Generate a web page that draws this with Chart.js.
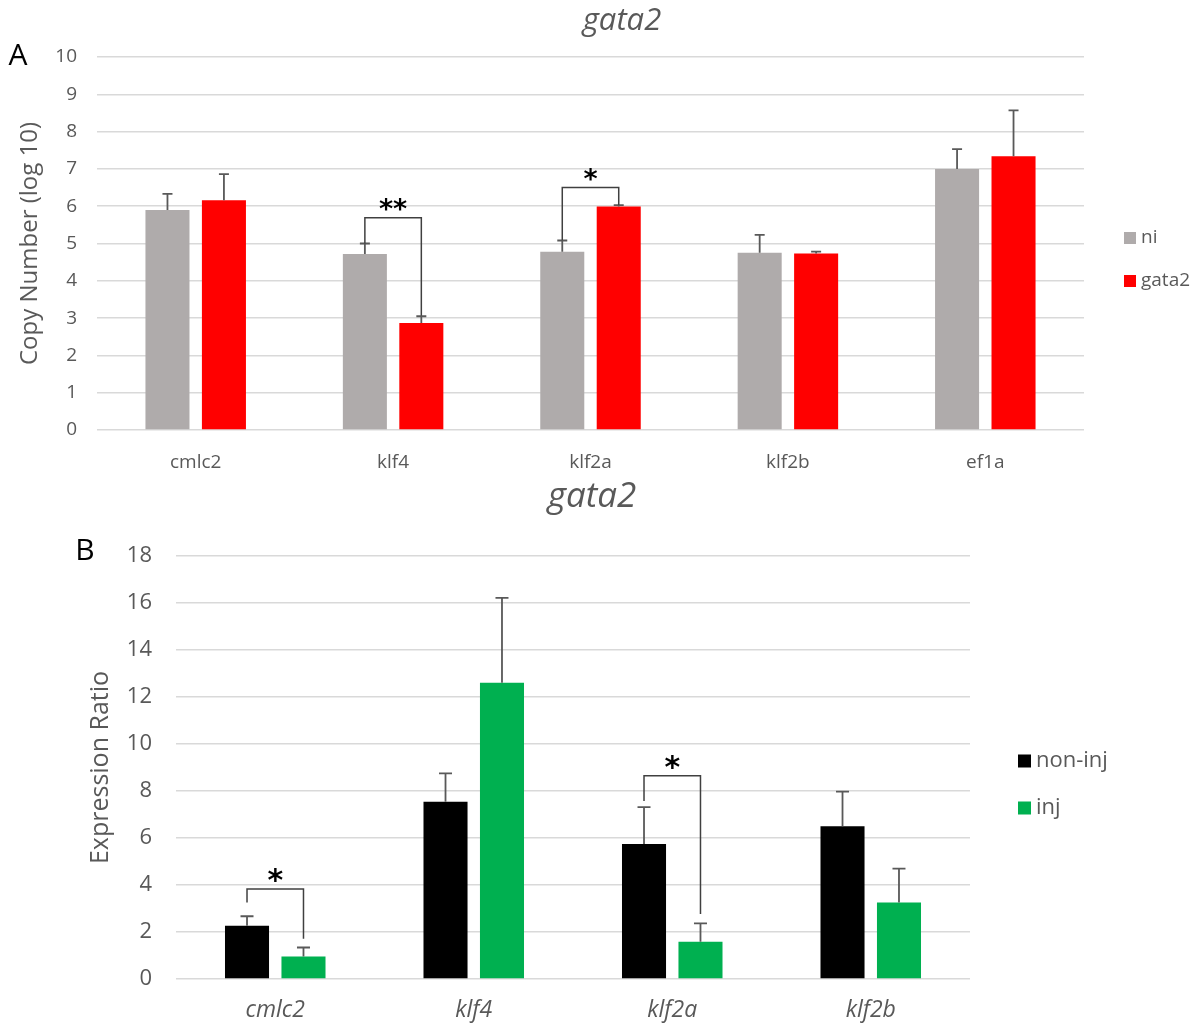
<!DOCTYPE html>
<html>
<head>
<meta charset="utf-8">
<script src="https://cdn.jsdelivr.net/npm/chart.js@4.4.0/dist/chart.umd.min.js"></script>
<style>
  body { margin: 0; background: #fff; }
  #chartA { position: absolute; left: 0; top: 0; }
  #chartB { position: absolute; left: 0; top: 480px; }
</style>
</head>
<body>
<canvas id="chartA" width="1198" height="480"></canvas>
<canvas id="chartB" width="1198" height="545"></canvas>
<script>
// panel A data (copy number, log10)
const catsA = ["cmlc2", "klf4", "klf2a", "klf2b", "ef1a"];
const niVals = [5.9, 4.72, 4.78, 4.75, 7.0];
const gataVals = [6.16, 2.87, 5.99, 4.73, 7.34];
const niErr = [0.43, 0.28, 0.3, 0.48, 0.53];
const gataErr = [0.7, 0.18, 0.04, 0.05, 1.23];
// significance brackets: category, left end, top, right end, label
const bracketsA = [
  [1, 5.0, 5.69, 3.06, "**"],
  [2, 5.09, 6.5, 6.03, "*"],
];

// panel B data (expression ratio)
const catsB = ["cmlc2", "klf4", "klf2a", "klf2b"];
const nonInjVals = [2.27, 7.54, 5.74, 6.5];
const injVals = [0.96, 12.61, 1.59, 3.26];
const nonInjErr = [0.4, 1.21, 1.57, 1.47];
const injErr = [0.38, 3.61, 0.78, 1.44];
const bracketsB = [
  [0, 3.26, 3.83, 1.71, "*"],
  [2, 7.57, 8.65, 2.77, "*"],
];

const FONT = "'Open Sans', sans-serif";
const TEXT = "#595959";
Chart.defaults.font.family = FONT;

// upper error bars drawn from the y scale
const errorBars = {
  id: "errorBars",
  afterDatasetsDraw(chart, args, opts) {
    const ctx = chart.ctx;
    const y = chart.scales.y;
    ctx.save();
    ctx.strokeStyle = opts.color;
    ctx.lineWidth = opts.width;
    opts.errors.forEach((errs, di) => {
      const meta = chart.getDatasetMeta(di);
      meta.data.forEach((bar, i) => {
        const v = chart.data.datasets[di].data[i];
        const y0 = y.getPixelForValue(v);
        const y1 = y.getPixelForValue(v + errs[i]);
        ctx.beginPath();
        ctx.moveTo(bar.x, y0);
        ctx.lineTo(bar.x, y1);
        ctx.moveTo(bar.x - opts.cap, y1);
        ctx.lineTo(bar.x + opts.cap, y1);
        ctx.stroke();
      });
    });
    ctx.restore();
  },
};

// brackets with stars between the two bars of a group
const sigBrackets = {
  id: "sigBrackets",
  afterDatasetsDraw(chart, args, opts) {
    const ctx = chart.ctx;
    const y = chart.scales.y;
    ctx.save();
    opts.items.forEach(([idx, left, top, right, label]) => {
      const xl = chart.getDatasetMeta(0).data[idx].x;
      const xr = chart.getDatasetMeta(1).data[idx].x;
      const yt = y.getPixelForValue(top);
      ctx.strokeStyle = "#404040";
      ctx.lineWidth = 1.5;
      ctx.beginPath();
      ctx.moveTo(xl, y.getPixelForValue(left));
      ctx.lineTo(xl, yt);
      ctx.lineTo(xr, yt);
      ctx.lineTo(xr, y.getPixelForValue(right));
      ctx.stroke();
      ctx.fillStyle = "#000";
      ctx.font = "bold " + opts.starSize + "px 'DejaVu Sans'";
      ctx.textAlign = "center";
      ctx.textBaseline = "alphabetic";
      const m = ctx.measureText(label);
      const cy = yt - opts.gap;
      const base = cy + (m.actualBoundingBoxAscent - m.actualBoundingBoxDescent) / 2;
      ctx.fillText(label, (xl + xr) / 2, base);
    });
    ctx.restore();
  },
};

// side legend, panel title and panel letter
const decor = {
  id: "decor",
  afterDraw(chart, args, opts) {
    const ctx = chart.ctx;
    ctx.save();
    ctx.textBaseline = "middle";
    chart.data.datasets.forEach((ds, i) => {
      const cy = opts.legendY[i];
      ctx.fillStyle = ds.backgroundColor;
      ctx.fillRect(opts.legendX, cy - opts.box / 2, opts.box, opts.box);
      ctx.fillStyle = TEXT;
      ctx.font = opts.legendFont + "px " + FONT;
      ctx.textAlign = "left";
      ctx.fillText(ds.label, opts.legendX + opts.box + 5, cy);
    });
    ctx.font = "italic " + opts.titleSize + "px " + FONT;
    ctx.fillStyle = TEXT;
    ctx.textAlign = "center";
    ctx.fillText(opts.title, opts.titleX, opts.titleY);
    ctx.font = opts.letterSize + "px " + FONT;
    ctx.fillStyle = "#000";
    ctx.fillText(opts.letter, opts.letterX, opts.letterY);
    ctx.restore();
  },
};

new Chart(document.getElementById("chartA"), {
  type: "bar",
  data: {
    labels: catsA,
    datasets: [
      { label: "ni", data: niVals, backgroundColor: "#afabab" },
      { label: "gata2", data: gataVals, backgroundColor: "#ff0000" },
    ],
  },
  options: {
    responsive: false,
    animation: false,
    layout: { padding: { top: 57, right: 114, bottom: 0, left: 0 } },
    datasets: { bar: { categoryPercentage: 0.572, barPercentage: 0.78 } },
    scales: {
      x: {
        grid: { display: false },
        border: { display: false },
        ticks: { color: TEXT, font: { size: 19 }, padding: 13 },
        afterFit(s) { s.height = 50; },
      },
      y: {
        min: 0,
        max: 10,
        ticks: { stepSize: 1, color: TEXT, font: { size: 19 }, padding: 20 },
        grid: { color: "#d9d9d9", lineWidth: 1.5, drawTicks: false },
        border: { display: false },
        title: {
          display: true,
          text: "Copy Number (log 10)",
          color: TEXT,
          font: { size: 24 },
          padding: { top: 16, bottom: 0 },
        },
        afterFit(s) { s.width = 97; },
      },
    },
    plugins: {
      legend: { display: false },
      tooltip: { enabled: false },
      errorBars: { errors: [niErr, gataErr], color: "#595959", width: 1.8, cap: 5 },
      sigBrackets: { items: bracketsA, starSize: 27, gap: 13 },
      decor: {
        legendX: 1124, legendY: [238, 281], box: 12, legendFont: 19,
        title: "gata2", titleX: 622, titleY: 21, titleSize: 31,
        letter: "A", letterX: 18, letterY: 56, letterSize: 30,
      },
    },
  },
  plugins: [errorBars, sigBrackets, decor],
});

new Chart(document.getElementById("chartB"), {
  type: "bar",
  data: {
    labels: catsB,
    datasets: [
      { label: "non-inj", data: nonInjVals, backgroundColor: "#000000" },
      { label: "inj", data: injVals, backgroundColor: "#00b050" },
    ],
  },
  options: {
    responsive: false,
    animation: false,
    layout: { padding: { top: 76, right: 228, bottom: 0, left: 0 } },
    datasets: { bar: { categoryPercentage: 0.569, barPercentage: 0.78 } },
    scales: {
      x: {
        grid: { display: false },
        border: { display: false },
        ticks: { color: TEXT, font: { size: 23, style: "italic" }, padding: 10 },
        afterFit(s) { s.height = 46; },
      },
      y: {
        min: 0,
        max: 18,
        ticks: { stepSize: 2, color: TEXT, font: { size: 22 }, padding: 24 },
        grid: { color: "#d9d9d9", lineWidth: 1.5, drawTicks: false },
        border: { display: false },
        title: {
          display: true,
          text: "Expression Ratio",
          color: TEXT,
          font: { size: 25 },
          padding: { top: 86, bottom: 0 },
        },
        afterFit(s) { s.width = 176; },
      },
    },
    plugins: {
      legend: { display: false },
      tooltip: { enabled: false },
      errorBars: { errors: [nonInjErr, injErr], color: "#595959", width: 1.8, cap: 6.5 },
      sigBrackets: { items: bracketsB, starSize: 30, gap: 13 },
      decor: {
        legendX: 1018, legendY: [281, 328], box: 13, legendFont: 22,
        title: "gata2", titleX: 592, titleY: 17, titleSize: 35,
        letter: "B", letterX: 85, letterY: 71, letterSize: 30,
      },
    },
  },
  plugins: [errorBars, sigBrackets, decor],
});
</script>
</body>
</html>
